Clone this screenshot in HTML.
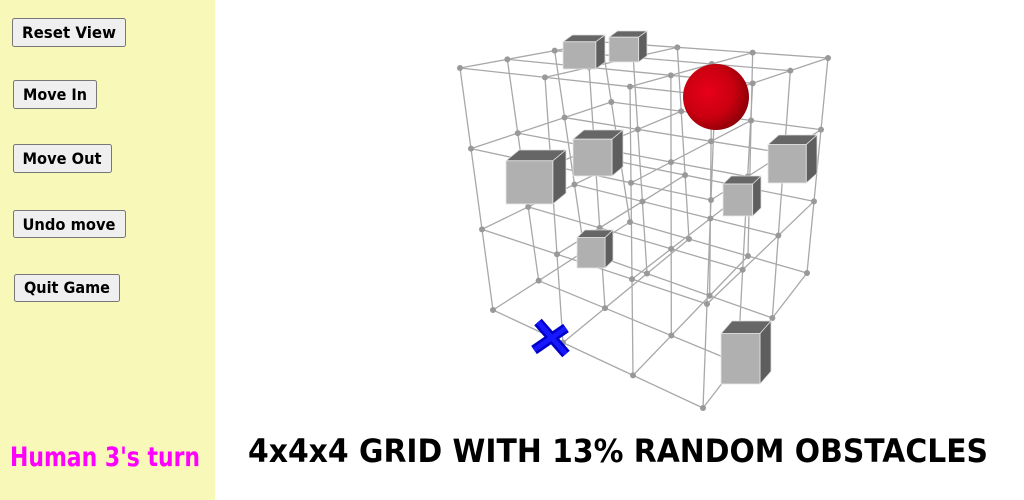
<!DOCTYPE html>
<html><head><meta charset="utf-8"><style>
html,body{margin:0;padding:0;width:1024px;height:500px;overflow:hidden;background:#fff}
svg{display:block}
</style></head><body>
<svg id="s" width="1024" height="500" xmlns="http://www.w3.org/2000/svg">
<defs>
<radialGradient id="rg" cx="0.38" cy="0.42" r="0.65">
<stop offset="0" stop-color="#e8001a"/><stop offset="0.6" stop-color="#c8000f"/><stop offset="1" stop-color="#8a0008"/>
</radialGradient>
</defs>
<rect x="0" y="0" width="215" height="500" fill="#f8f8b8"/>
<g font-family="'DejaVu Sans','Liberation Sans',sans-serif" font-weight="bold" font-size="16" fill="#000">
<rect x="12.5" y="18.5" width="113" height="28" rx="2" fill="#efefef" stroke="#777"/>
<text x="69" y="38" text-anchor="middle" textLength="94" lengthAdjust="spacingAndGlyphs">Reset View</text>
<rect x="13.5" y="80.5" width="83" height="28" rx="2" fill="#efefef" stroke="#777"/>
<text x="55" y="100" text-anchor="middle" textLength="64" lengthAdjust="spacingAndGlyphs">Move In</text>
<rect x="13.5" y="144.5" width="98" height="28" rx="2" fill="#efefef" stroke="#777"/>
<text x="62" y="164" text-anchor="middle" textLength="79" lengthAdjust="spacingAndGlyphs">Move Out</text>
<rect x="13.5" y="210.5" width="112" height="27" rx="2" fill="#efefef" stroke="#777"/>
<text x="69" y="230" text-anchor="middle" textLength="93" lengthAdjust="spacingAndGlyphs">Undo move</text>
<rect x="14.5" y="274.5" width="105" height="27" rx="2" fill="#efefef" stroke="#777"/>
<text x="67" y="293" text-anchor="middle" textLength="86" lengthAdjust="spacingAndGlyphs">Quit Game</text>
</g>
<text x="10" y="466" font-family="'DejaVu Sans','Liberation Sans',sans-serif" font-weight="bold" font-size="27" fill="#ff00ff" textLength="190" lengthAdjust="spacingAndGlyphs">Human 3's turn</text>
<text x="248" y="462" font-family="'DejaVu Sans','Liberation Sans',sans-serif" font-weight="bold" font-size="32" fill="#000" textLength="740" lengthAdjust="spacingAndGlyphs">4x4x4 GRID WITH 13% RANDOM OBSTACLES</text>
<g id="grid"></g>
</svg>
<script>
var NS="http://www.w3.org/2000/svg",g=document.getElementById('grid');
var T={L:[460,68],F:[715,96],B:[602,42],R:[828,58]},Bt={L:[493,310],F:[703,408],B:[630,222],R:[807,273]};
function P(u,v,w){function f(c){return [c.L[0]*(1-u)*(1-v)+c.F[0]*u*(1-v)+c.B[0]*(1-u)*v+c.R[0]*u*v,c.L[1]*(1-u)*(1-v)+c.F[1]*u*(1-v)+c.B[1]*(1-u)*v+c.R[1]*u*v];}
var a=f(T),b=f(Bt);return [a[0]*(1-w)+b[0]*w,a[1]*(1-w)+b[1]*w];}
function el(n,at){var e=document.createElementNS(NS,n);for(var k in at)e.setAttribute(k,at[k]);g.appendChild(e);return e;}
var d="";
for(var a=0;a<4;a++)for(var b=0;b<4;b++){var s=a/3,t=b/3,p,q;
p=P(0,s,t);q=P(1,s,t);d+="M"+p+"L"+q;
p=P(s,0,t);q=P(s,1,t);d+="M"+p+"L"+q;
p=P(s,t,0);q=P(s,t,1);d+="M"+p+"L"+q;}
el('path',{d:d,stroke:'#a8a8a8','stroke-width':1.3,fill:'none'});
for(var i=0;i<4;i++)for(var j=0;j<4;j++)for(var k=0;k<4;k++){var p=P(i/3,j/3,k/3);el('circle',{cx:p[0],cy:p[1],r:3,fill:'#999'});}
function cube(x,y,w,h){var dx=w*0.22,dy=h*0.2;var fw=w-dx,fh=h-dy;
el('polygon',{points:[x,y+dy,x+dx,y,x+w,y,x+fw,y+dy].join(' '),fill:'#666',stroke:'#ddd','stroke-width':0.8});
el('polygon',{points:[x+fw,y+dy,x+w,y,x+w,y+fh,x+fw,y+h].join(' '),fill:'#5e5e5e',stroke:'#ddd','stroke-width':0.8});
el('rect',{x:x,y:y+dy,width:fw,height:fh,fill:'#b0b0b0',stroke:'#e6e6e6','stroke-width':0.8});}
cube(563,35,42,34);cube(609,31,38,31);cube(506,150,60,54);cube(573,130,50,46);
cube(768,135,49,48);cube(723,176,38,40);cube(577,230,36,38);cube(721,321,50,63);
el('circle',{cx:716,cy:97,r:33,fill:'url(#rg)'});
el('path',{d:'M538,322L566,354M566,328L534,350',stroke:'#0000c8','stroke-width':10,'stroke-linecap':'butt'});
el('path',{d:'M538,322L566,354M566,328L534,350',stroke:'#1818ff','stroke-width':5,'stroke-linecap':'butt'});
</script>
</body></html>
